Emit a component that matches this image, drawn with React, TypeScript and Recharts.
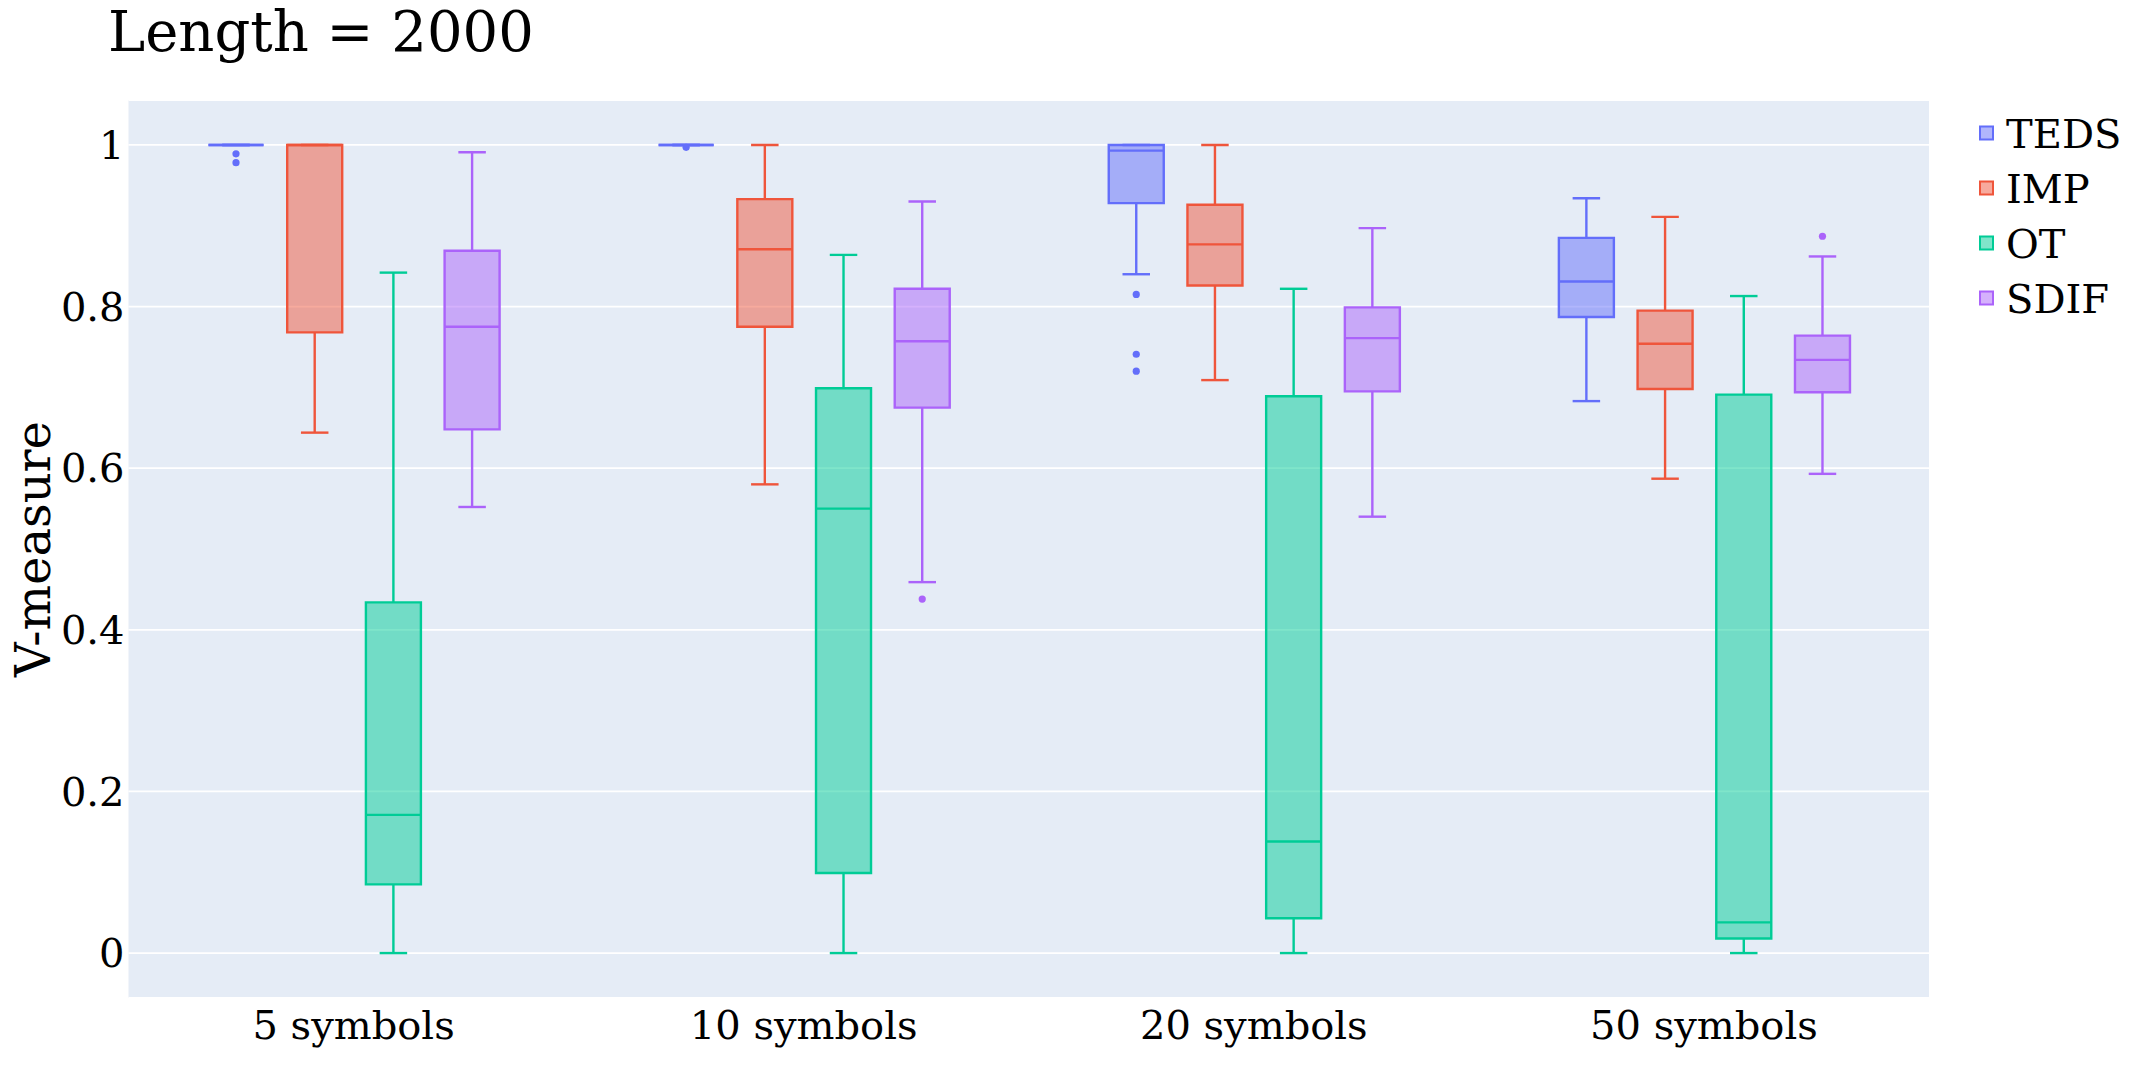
import { Bar, BarChart, CartesianGrid, XAxis, YAxis } from 'recharts';

const categories = ['5 symbols', '10 symbols', '20 symbols', '50 symbols'];
const seriesNames = ['TEDS', 'IMP', 'OT', 'SDIF'];
const seriesColors = ['#636EFA', '#EF553B', '#00CC96', '#AB63FA'];
const yTicks = [0, 0.2, 0.4, 0.6, 0.8, 1];

// per category: [lower whisker, q1, median, q3, upper whisker]
const tedsStats = [
  [1, 1, 1, 1, 1],
  [1, 1, 1, 1, 1],
  [0.84, 0.928, 0.993, 1, 1],
  [0.683, 0.787, 0.831, 0.885, 0.934],
];
const impStats = [
  [0.644, 0.768, 1, 1, 1],
  [0.58, 0.775, 0.871, 0.933, 1],
  [0.709, 0.826, 0.877, 0.926, 1],
  [0.587, 0.698, 0.754, 0.795, 0.911],
];
const otStats = [
  [0, 0.085, 0.171, 0.434, 0.842],
  [0, 0.099, 0.55, 0.699, 0.864],
  [0, 0.043, 0.138, 0.689, 0.822],
  [0, 0.018, 0.038, 0.691, 0.813],
];
const sdifStats = [
  [0.552, 0.648, 0.775, 0.869, 0.991],
  [0.459, 0.675, 0.757, 0.822, 0.93],
  [0.54, 0.695, 0.761, 0.799, 0.897],
  [0.593, 0.694, 0.734, 0.764, 0.862],
];

const tedsOutliers = [[0.989, 0.978], [0.997], [0.815, 0.741, 0.72], []];
const impOutliers = [[], [], [], []];
const otOutliers = [[], [], [], []];
const sdifOutliers = [[], [0.438], [], [0.887]];

const allStats = [tedsStats, impStats, otStats, sdifStats];
const allOutliers = [tedsOutliers, impOutliers, otOutliers, sdifOutliers];

const chartData = categories.map((cat, i) => {
  const row: Record<string, any> = { cat };
  seriesNames.forEach((name, s) => {
    row[name] = { stats: allStats[s][i], outliers: allOutliers[s][i] };
  });
  return row;
});

const FONT = 'DejaVu Serif';
const LW = 2.4;

// the bar itself spans 0..1, so its y/height give the axis scale
function BoxShape(props: any) {
  const { x, y, width, height, payload, name, color } = props;
  const box = payload?.[name];
  if (!box) return null;
  const toPx = (v: number) => y + height - v * height;
  const [lo, q1, med, q3, hi] = box.stats;
  const cx = x + width / 2;
  const cap = width / 4;
  const yq1 = toPx(q1);
  const yq3 = toPx(q3);
  return (
    <g>
      <line x1={cx} x2={cx} y1={toPx(hi)} y2={yq3} stroke={color} strokeWidth={LW} />
      <line x1={cx} x2={cx} y1={yq1} y2={toPx(lo)} stroke={color} strokeWidth={LW} />
      <line x1={cx - cap} x2={cx + cap} y1={toPx(hi)} y2={toPx(hi)} stroke={color} strokeWidth={LW} />
      <line x1={cx - cap} x2={cx + cap} y1={toPx(lo)} y2={toPx(lo)} stroke={color} strokeWidth={LW} />
      <path
        d={`M${x},${yq3} H${x + width} V${yq1} H${x} Z`}
        fill={color}
        fillOpacity={0.5}
        stroke={color}
        strokeWidth={LW}
      />
      <line x1={x} x2={x + width} y1={toPx(med)} y2={toPx(med)} stroke={color} strokeWidth={LW} />
      {box.outliers.map((o: number, k: number) => (
        <circle key={k} cx={cx} cy={toPx(o)} r={3.6} fill={color} />
      ))}
    </g>
  );
}

export default function App() {
  return (
    <div style={{ position: 'absolute', left: 0, top: 0, width: 2144, height: 1077, background: '#fff' }}>
      <BarChart
        width={2144}
        height={1077}
        data={chartData}
        margin={{ top: 100, right: 215, bottom: 0, left: 8.5 }}
        barSize={55}
        barGap={23.7}
      >
        <CartesianGrid vertical={false} fill="#E5ECF6" fillOpacity={1} stroke="#ffffff" strokeWidth={1.8} />
        <XAxis
          dataKey="cat"
          axisLine={false}
          tickLine={false}
          tickSize={0}
          tickMargin={13}
          height={79}
          interval={0}
          tick={{ fill: '#000', fontSize: 40, fontFamily: FONT }}
        />
        <YAxis
          type="number"
          domain={[-0.0556, 1.0556]}
          ticks={yTicks}
          allowDataOverflow
          axisLine={false}
          tickLine={false}
          tickSize={0}
          tickMargin={4}
          width={120}
          tick={{ fill: '#000', fontSize: 40, fontFamily: FONT }}
          tickFormatter={(v: number) => (v === 0 || v === 1 ? String(v) : v.toFixed(1))}
        />
        {seriesNames.map((name, s) => (
          <Bar
            key={name}
            name={name}
            dataKey={() => [0, 1]}
            fill={seriesColors[s]}
            isAnimationActive={false}
            shape={(p: any) => <BoxShape {...p} name={name} color={seriesColors[s]} />}
          />
        ))}
      </BarChart>
      <svg
        width={2144}
        height={1077}
        style={{ position: 'absolute', left: 0, top: 0, pointerEvents: 'none' }}
      >
        <text x={108} y={51} fontFamily={FONT} fontSize={56} fill="#000">
          Length = 2000
        </text>
        <text
          transform="translate(50,549) rotate(-90)"
          textAnchor="middle"
          fontFamily={FONT}
          fontSize={48}
          fill="#000"
        >
          V-measure
        </text>
        {seriesNames.map((name, s) => {
          const cy = 133 + s * 55;
          return (
            <g key={name}>
              <rect
                x={1980}
                y={cy - 6.5}
                width={13}
                height={13}
                fill={seriesColors[s]}
                fillOpacity={0.5}
                stroke={seriesColors[s]}
                strokeWidth={2}
              />
              <text x={2006} y={cy + 14.6} fontFamily={FONT} fontSize={40} fill="#000">
                {name}
              </text>
            </g>
          );
        })}
      </svg>
    </div>
  );
}
